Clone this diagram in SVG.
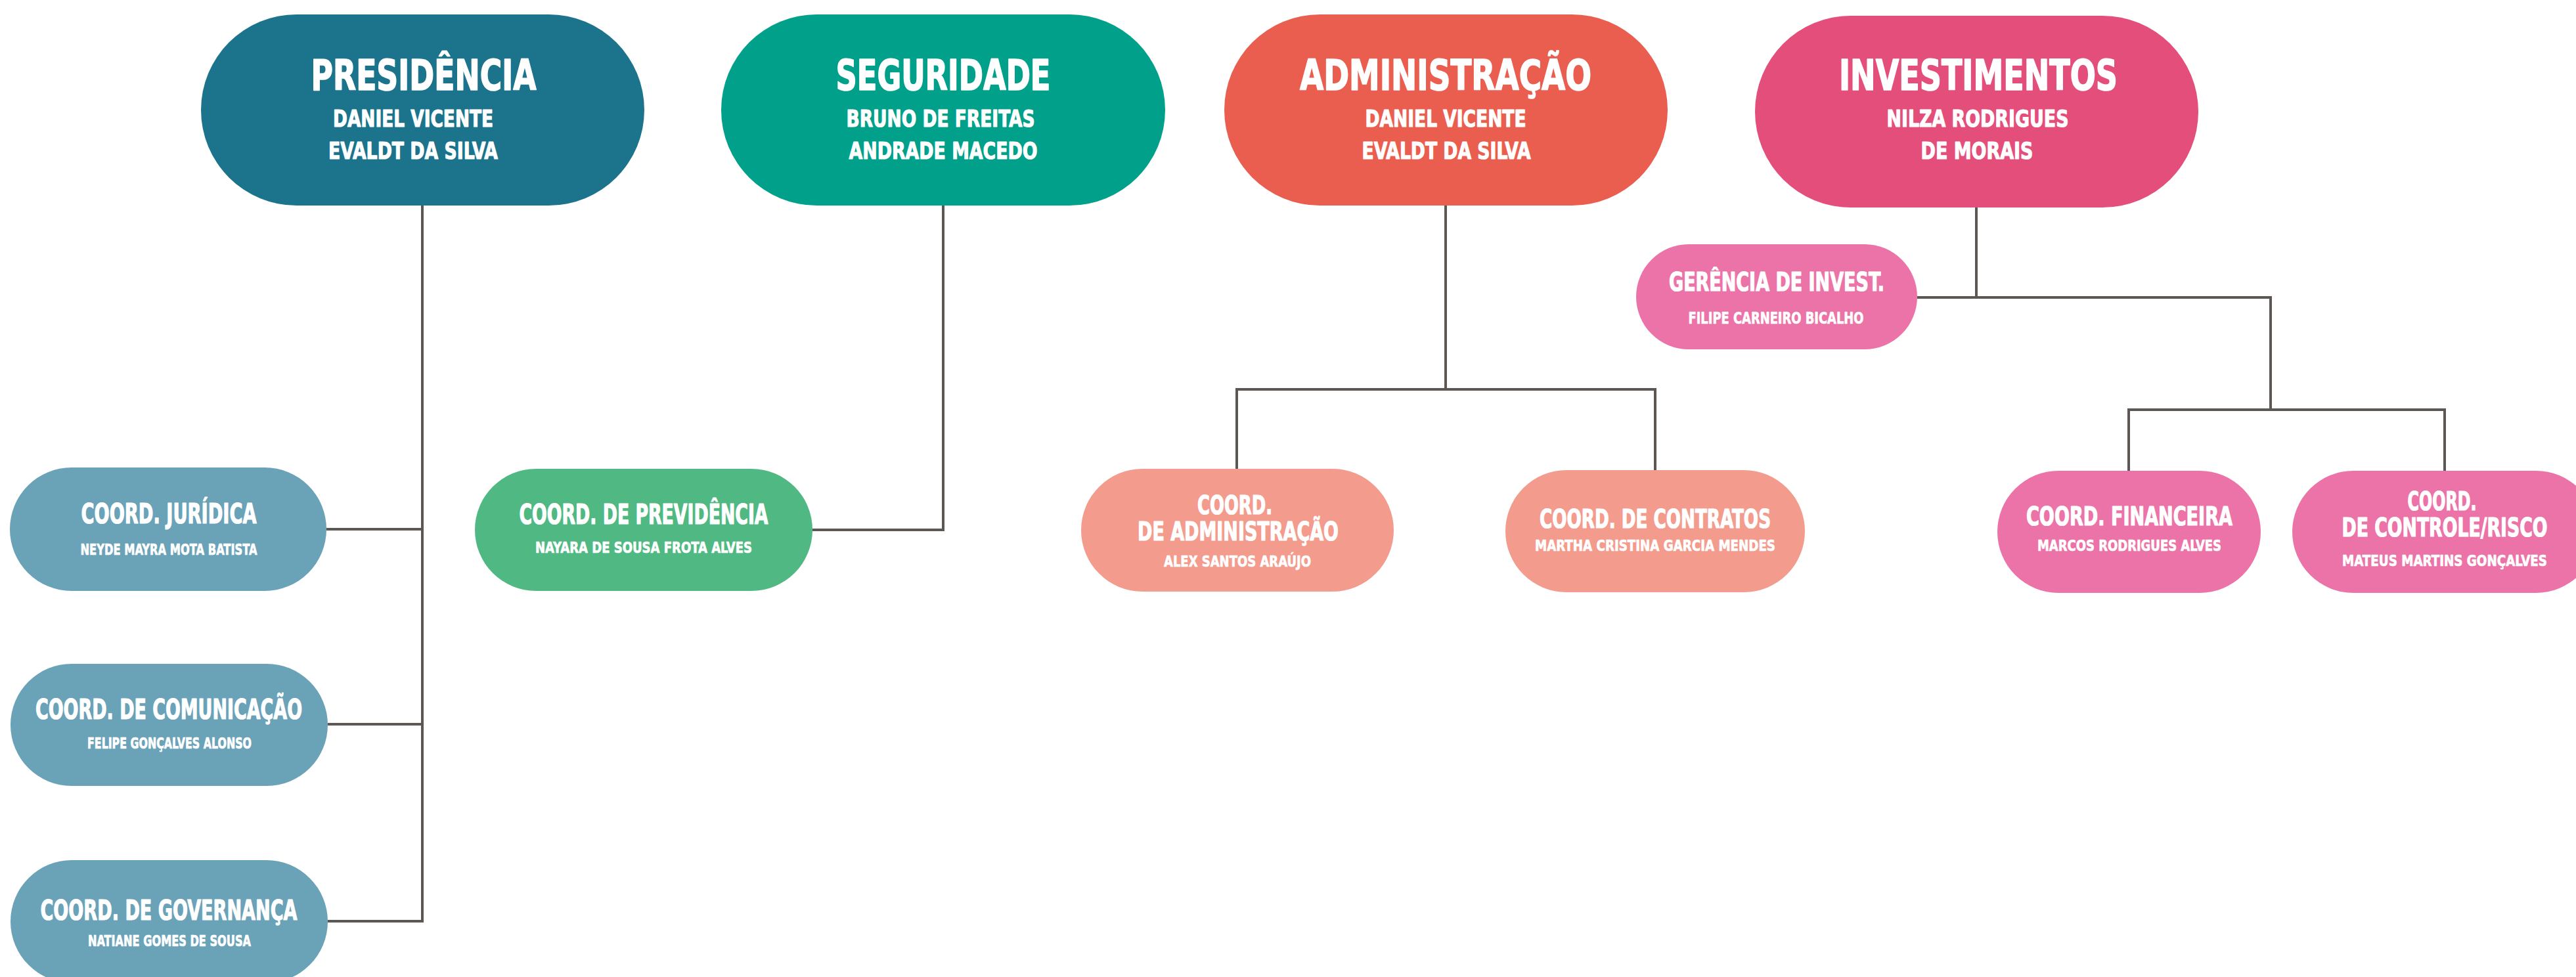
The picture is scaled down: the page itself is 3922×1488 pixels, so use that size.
<svg xmlns="http://www.w3.org/2000/svg" width="3922" height="1488" viewBox="0 0 3922 1488">
<style>
text{font-family:"Liberation Sans Narrow","DejaVu Sans Condensed","Liberation Sans",sans-serif;font-weight:bold;fill:#ffffff;text-anchor:middle;stroke:#ffffff;stroke-linejoin:round}
.t1{font-size:64px;stroke-width:1.6}
.s1{font-size:36px;stroke-width:1.1}
.t2{font-size:42px;stroke-width:1.2}
.t3{font-size:39px;stroke-width:1.2}
.s2{font-size:23px;stroke-width:0.7}
.s3{font-size:25px;stroke-width:0.7}
.con{fill:none;stroke:#5c5752;stroke-width:4}
</style>
<rect width="3922" height="1488" fill="#ffffff"/>
<g id="connectors">
<path class="con" d="M643 313 V1403 H499"/>
<path class="con" d="M497 806 H643"/>
<path class="con" d="M499 1103 H643"/>
<path class="con" d="M1436 313 V807 H1237"/>
<path class="con" d="M2201 313 V593"/>
<path class="con" d="M1883 714 V593 H2520 V716"/>
<path class="con" d="M3009 316 V453"/>
<path class="con" d="M2919 453 H3457 V624"/>
<path class="con" d="M3241 717 V624 H3722 V717"/>
</g>
<g id="presidencia">
<rect x="306" y="22" width="675" height="291" rx="145.5" fill="#1b748c"/>
<text class="t1" x="645" y="137" textLength="343" lengthAdjust="spacingAndGlyphs">PRESIDÊNCIA</text>
<text class="s1" x="629" y="193" textLength="244" lengthAdjust="spacingAndGlyphs">DANIEL VICENTE</text>
<text class="s1" x="629" y="242" textLength="258" lengthAdjust="spacingAndGlyphs">EVALDT DA SILVA</text>
</g>
<g id="seguridade">
<rect x="1098" y="22" width="676" height="291" rx="145.5" fill="#00a08a"/>
<text class="t1" x="1436" y="137" textLength="327" lengthAdjust="spacingAndGlyphs">SEGURIDADE</text>
<text class="s1" x="1432" y="193" textLength="287" lengthAdjust="spacingAndGlyphs">BRUNO DE FREITAS</text>
<text class="s1" x="1436" y="242" textLength="287" lengthAdjust="spacingAndGlyphs">ANDRADE MACEDO</text>
</g>
<g id="administracao">
<rect x="1864" y="22" width="675" height="291" rx="145.5" fill="#ea5e50"/>
<text class="t1" x="2201" y="137" textLength="444" lengthAdjust="spacingAndGlyphs">ADMINISTRAÇÃO</text>
<text class="s1" x="2201" y="193" textLength="245" lengthAdjust="spacingAndGlyphs">DANIEL VICENTE</text>
<text class="s1" x="2202" y="242" textLength="257" lengthAdjust="spacingAndGlyphs">EVALDT DA SILVA</text>
</g>
<g id="investimentos">
<rect x="2672" y="24" width="675" height="292" rx="146" fill="#e44e7b"/>
<text class="t1" x="3012" y="137" textLength="424" lengthAdjust="spacingAndGlyphs">INVESTIMENTOS</text>
<text class="s1" x="3011" y="193" textLength="277" lengthAdjust="spacingAndGlyphs">NILZA RODRIGUES</text>
<text class="s1" x="3010" y="242" textLength="171" lengthAdjust="spacingAndGlyphs">DE MORAIS</text>
</g>
<g id="gerencia-invest">
<rect x="2491" y="372" width="428" height="160" rx="80" fill="#ec73a7"/>
<text class="t3" x="2705" y="443" textLength="328" lengthAdjust="spacingAndGlyphs">GERÊNCIA DE INVEST.</text>
<text class="s3" x="2704" y="493" textLength="267" lengthAdjust="spacingAndGlyphs">FILIPE CARNEIRO BICALHO</text>
</g>
<g id="coord-juridica">
<rect x="15" y="712" width="482" height="188" rx="94" fill="#6aa2b8"/>
<text class="t2" x="257" y="797" textLength="267" lengthAdjust="spacingAndGlyphs">COORD. JURÍDICA</text>
<text class="s2" x="257" y="845" textLength="269" lengthAdjust="spacingAndGlyphs">NEYDE MAYRA MOTA BATISTA</text>
</g>
<g id="coord-comunicacao">
<rect x="16" y="1011" width="483" height="186" rx="93" fill="#6aa2b8"/>
<text class="t2" x="257" y="1095" textLength="406" lengthAdjust="spacingAndGlyphs">COORD. DE COMUNICAÇÃO</text>
<text class="s2" x="258" y="1140" textLength="250" lengthAdjust="spacingAndGlyphs">FELIPE GONÇALVES ALONSO</text>
</g>
<g id="coord-governanca">
<rect x="16" y="1310" width="483" height="187" rx="93.5" fill="#6aa2b8"/>
<text class="t2" x="257" y="1401" textLength="391" lengthAdjust="spacingAndGlyphs">COORD. DE GOVERNANÇA</text>
<text class="s2" x="258" y="1441" textLength="248" lengthAdjust="spacingAndGlyphs">NATIANE GOMES DE SOUSA</text>
</g>
<g id="coord-previdencia">
<rect x="723" y="714" width="514" height="186" rx="93" fill="#50b983"/>
<text class="t2" x="980" y="798" textLength="379" lengthAdjust="spacingAndGlyphs">COORD. DE PREVIDÊNCIA</text>
<text class="s2" x="980" y="842" textLength="330" lengthAdjust="spacingAndGlyphs">NAYARA DE SOUSA FROTA ALVES</text>
</g>
<g id="coord-administracao">
<rect x="1646" y="714" width="476" height="187" rx="93.5" fill="#f39b8d"/>
<text class="t3" x="1880" y="783" textLength="114" lengthAdjust="spacingAndGlyphs">COORD.</text>
<text class="t3" x="1885" y="823" textLength="306" lengthAdjust="spacingAndGlyphs">DE ADMINISTRAÇÃO</text>
<text class="s2" x="1884" y="863" textLength="224" lengthAdjust="spacingAndGlyphs">ALEX SANTOS ARAÚJO</text>
</g>
<g id="coord-contratos">
<rect x="2292" y="716" width="456" height="186" rx="93" fill="#f39b8d"/>
<text class="t3" x="2520" y="804" textLength="352" lengthAdjust="spacingAndGlyphs">COORD. DE CONTRATOS</text>
<text class="s2" x="2520" y="839" textLength="366" lengthAdjust="spacingAndGlyphs">MARTHA CRISTINA GARCIA MENDES</text>
</g>
<g id="coord-financeira">
<rect x="3041" y="717" width="401" height="186" rx="93" fill="#ec73a7"/>
<text class="t3" x="3242" y="800" textLength="314" lengthAdjust="spacingAndGlyphs">COORD. FINANCEIRA</text>
<text class="s2" x="3242" y="839" textLength="280" lengthAdjust="spacingAndGlyphs">MARCOS RODRIGUES ALVES</text>
</g>
<g id="coord-controle-risco">
<rect x="3490" y="717" width="464" height="186" rx="93" fill="#ec73a7"/>
<text class="t3" x="3718" y="777" textLength="105" lengthAdjust="spacingAndGlyphs">COORD.</text>
<text class="t3" x="3722" y="817" textLength="313" lengthAdjust="spacingAndGlyphs">DE CONTROLE/RISCO</text>
<text class="s2" x="3722" y="862" textLength="312" lengthAdjust="spacingAndGlyphs">MATEUS MARTINS GONÇALVES</text>
</g>
</svg>
